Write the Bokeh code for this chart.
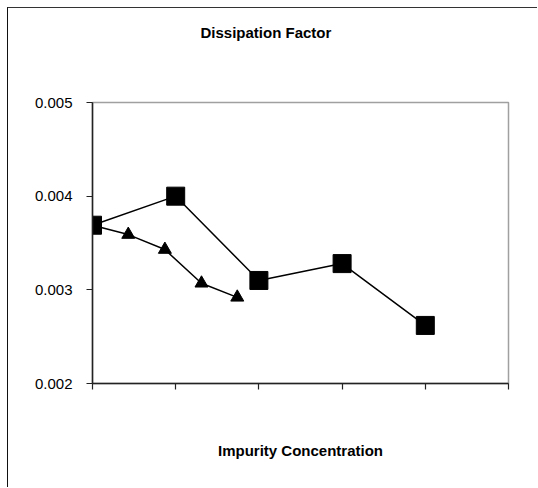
from bokeh.plotting import figure
from bokeh.models import FixedTicker, Range1d, CustomJSTickFormatter, Title
from bokeh.embed import file_html
from bokeh.resources import INLINE

# Data
sq_x = [0, 1, 2, 3, 4]
sq_y = [0.00369, 0.00400, 0.00310, 0.00328, 0.00262]
tri_x = [0, 0.43, 0.87, 1.31, 1.74]
tri_y = [0.00369, 0.00359, 0.00343, 0.00307, 0.00292]
y_ticks = [0.002, 0.003, 0.004, 0.005]
x_ticks = [0, 1, 2, 3, 4, 5]
title_text = "Dissipation Factor"
x_title = "Impurity Concentration"

FONT = "Liberation Sans"

p = figure(frame_width=416, frame_height=281,
           min_border_left=84, min_border_right=29,
           min_border_top=94, min_border_bottom=104,
           x_range=Range1d(0, 5), y_range=Range1d(0.002, 0.005),
           output_backend="svg", toolbar_location=None,
           background_fill_color="white", border_fill_color="white")
p.styles = {"margin-left": "7px", "margin-top": "7px",
            "border-top": "1px solid #333333",
            "border-left": "1px solid #111111"}

p.title.text = title_text
p.title.text_font = FONT
p.title.text_font_style = "bold"
p.title.text_font_size = "15px"
p.title.text_color = "black"
p.title.align = "left"
p.title.offset = 108
p.title.vertical_align = "top"
p.title.standoff = 30

# blank spacer between the title and the plot area
p.add_layout(Title(text=" ", text_font=FONT, text_font_size="15px",
                   standoff=26), "above")

p.outline_line_color = "#a0a0a0"
p.outline_line_width = 1.5
p.xgrid.visible = False
p.ygrid.visible = False

for ax in (p.xaxis[0], p.yaxis[0]):
    ax.axis_line_color = "#222222"
    ax.axis_line_width = 1.5
    ax.major_tick_line_color = "#222222"
    ax.major_tick_line_width = 1.2
    ax.major_tick_out = 6
    ax.major_tick_in = 0
    ax.minor_tick_line_color = None

p.xaxis.ticker = FixedTicker(ticks=x_ticks)
p.xaxis.major_label_overrides = {t: "" for t in x_ticks}
p.xaxis.major_label_standoff = 0
p.xaxis.axis_label = x_title
p.xaxis.axis_label_text_font = FONT
p.xaxis.axis_label_text_font_style = "bold"
p.xaxis.axis_label_text_font_size = "15px"
p.xaxis.axis_label_text_color = "black"
p.xaxis.axis_label_standoff = 52

p.yaxis.ticker = FixedTicker(ticks=y_ticks)
p.yaxis.formatter = CustomJSTickFormatter(code="return tick.toFixed(3);")
p.yaxis.major_label_text_font = FONT
p.yaxis.major_label_text_font_size = "15px"
p.yaxis.major_label_text_color = "black"
p.yaxis.major_label_standoff = 14

p.line(tri_x, tri_y, line_color="black", line_width=1.5)
p.scatter(tri_x[1:], tri_y[1:], marker="triangle", size=13,
          fill_color="black", line_color="black")
p.line(sq_x, sq_y, line_color="black", line_width=1.5)
p.scatter(sq_x, sq_y, marker="square", size=18,
          fill_color="black", line_color="black")

open("out.html", "w").write(file_html(p, INLINE))
